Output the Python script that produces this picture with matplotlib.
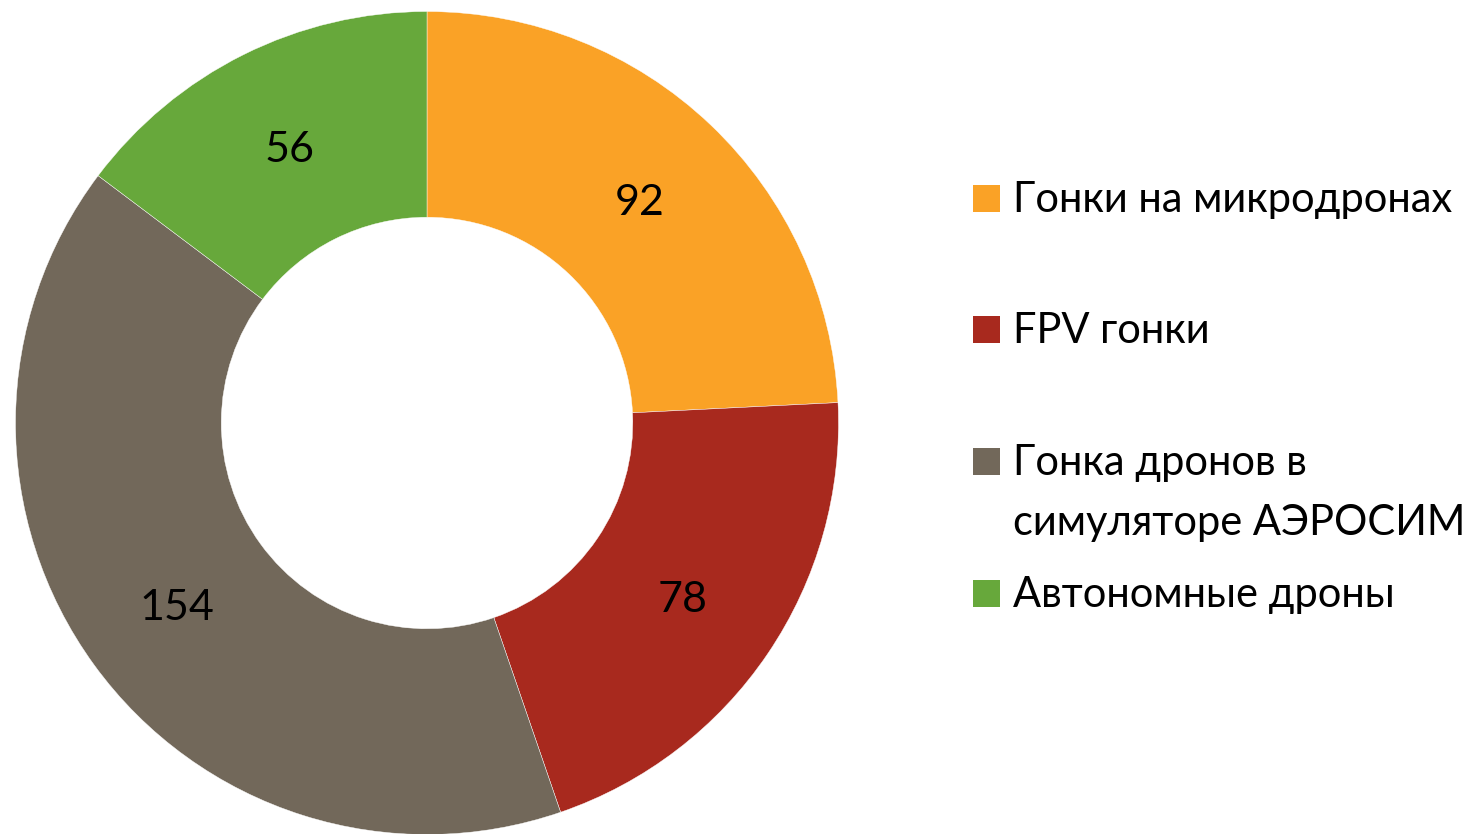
import matplotlib
matplotlib.use("Agg")
import matplotlib.pyplot as plt
from matplotlib.patches import Rectangle

categories = ["Гонки на микродронах", "FPV гонки", "Гонка дронов в\nсимуляторе АЭРОСИМ", "Автономные дроны"]
values = [92, 78, 154, 56]
colors = ["#FAA226", "#A8291E", "#72685A", "#67A83B"]

plt.rcParams['font.family'] = ['Lato', 'DejaVu Sans']

W, H = 1478, 834
fig = plt.figure(figsize=(W / 100, H / 100), dpi=100)
cx, cy, r = 427, 423, 411.5
ax = fig.add_axes([(cx - r) / W, (H - cy - r) / H, 2 * r / W, 2 * r / H])
wedges, texts = ax.pie(values, colors=colors, startangle=90, counterclock=False,
                       radius=1, wedgeprops=dict(width=0.5, edgecolor='white', linewidth=0.3),
                       labels=[str(v) for v in values], labeldistance=0.75,
                       textprops=dict(fontsize=31, color='black'))
for t in texts:
    t.set_ha('center')
    t.set_va('center_baseline')
ax.set_xlim(-1, 1)
ax.set_ylim(-1, 1)
ax.set_aspect('equal')
ax.axis('off')

# legend (manual, to match irregular spacing)
sq = 27
baselines = [212, 343, 475, 607]
line_gap = 60
for cat, col, bl in zip(categories, colors, baselines):
    fig.patches.append(Rectangle((973 / W, (H - bl) / H), sq / W, sq / H,
                                 transform=fig.transFigure, facecolor=col, edgecolor='none'))
    for i, line in enumerate(cat.split("\n")):
        fig.text(1013 / W, (H - bl - i * line_gap) / H, line, fontsize=30,
                 ha='left', va='baseline', color='black')

fig.savefig("out.png", dpi=100, facecolor='white')
